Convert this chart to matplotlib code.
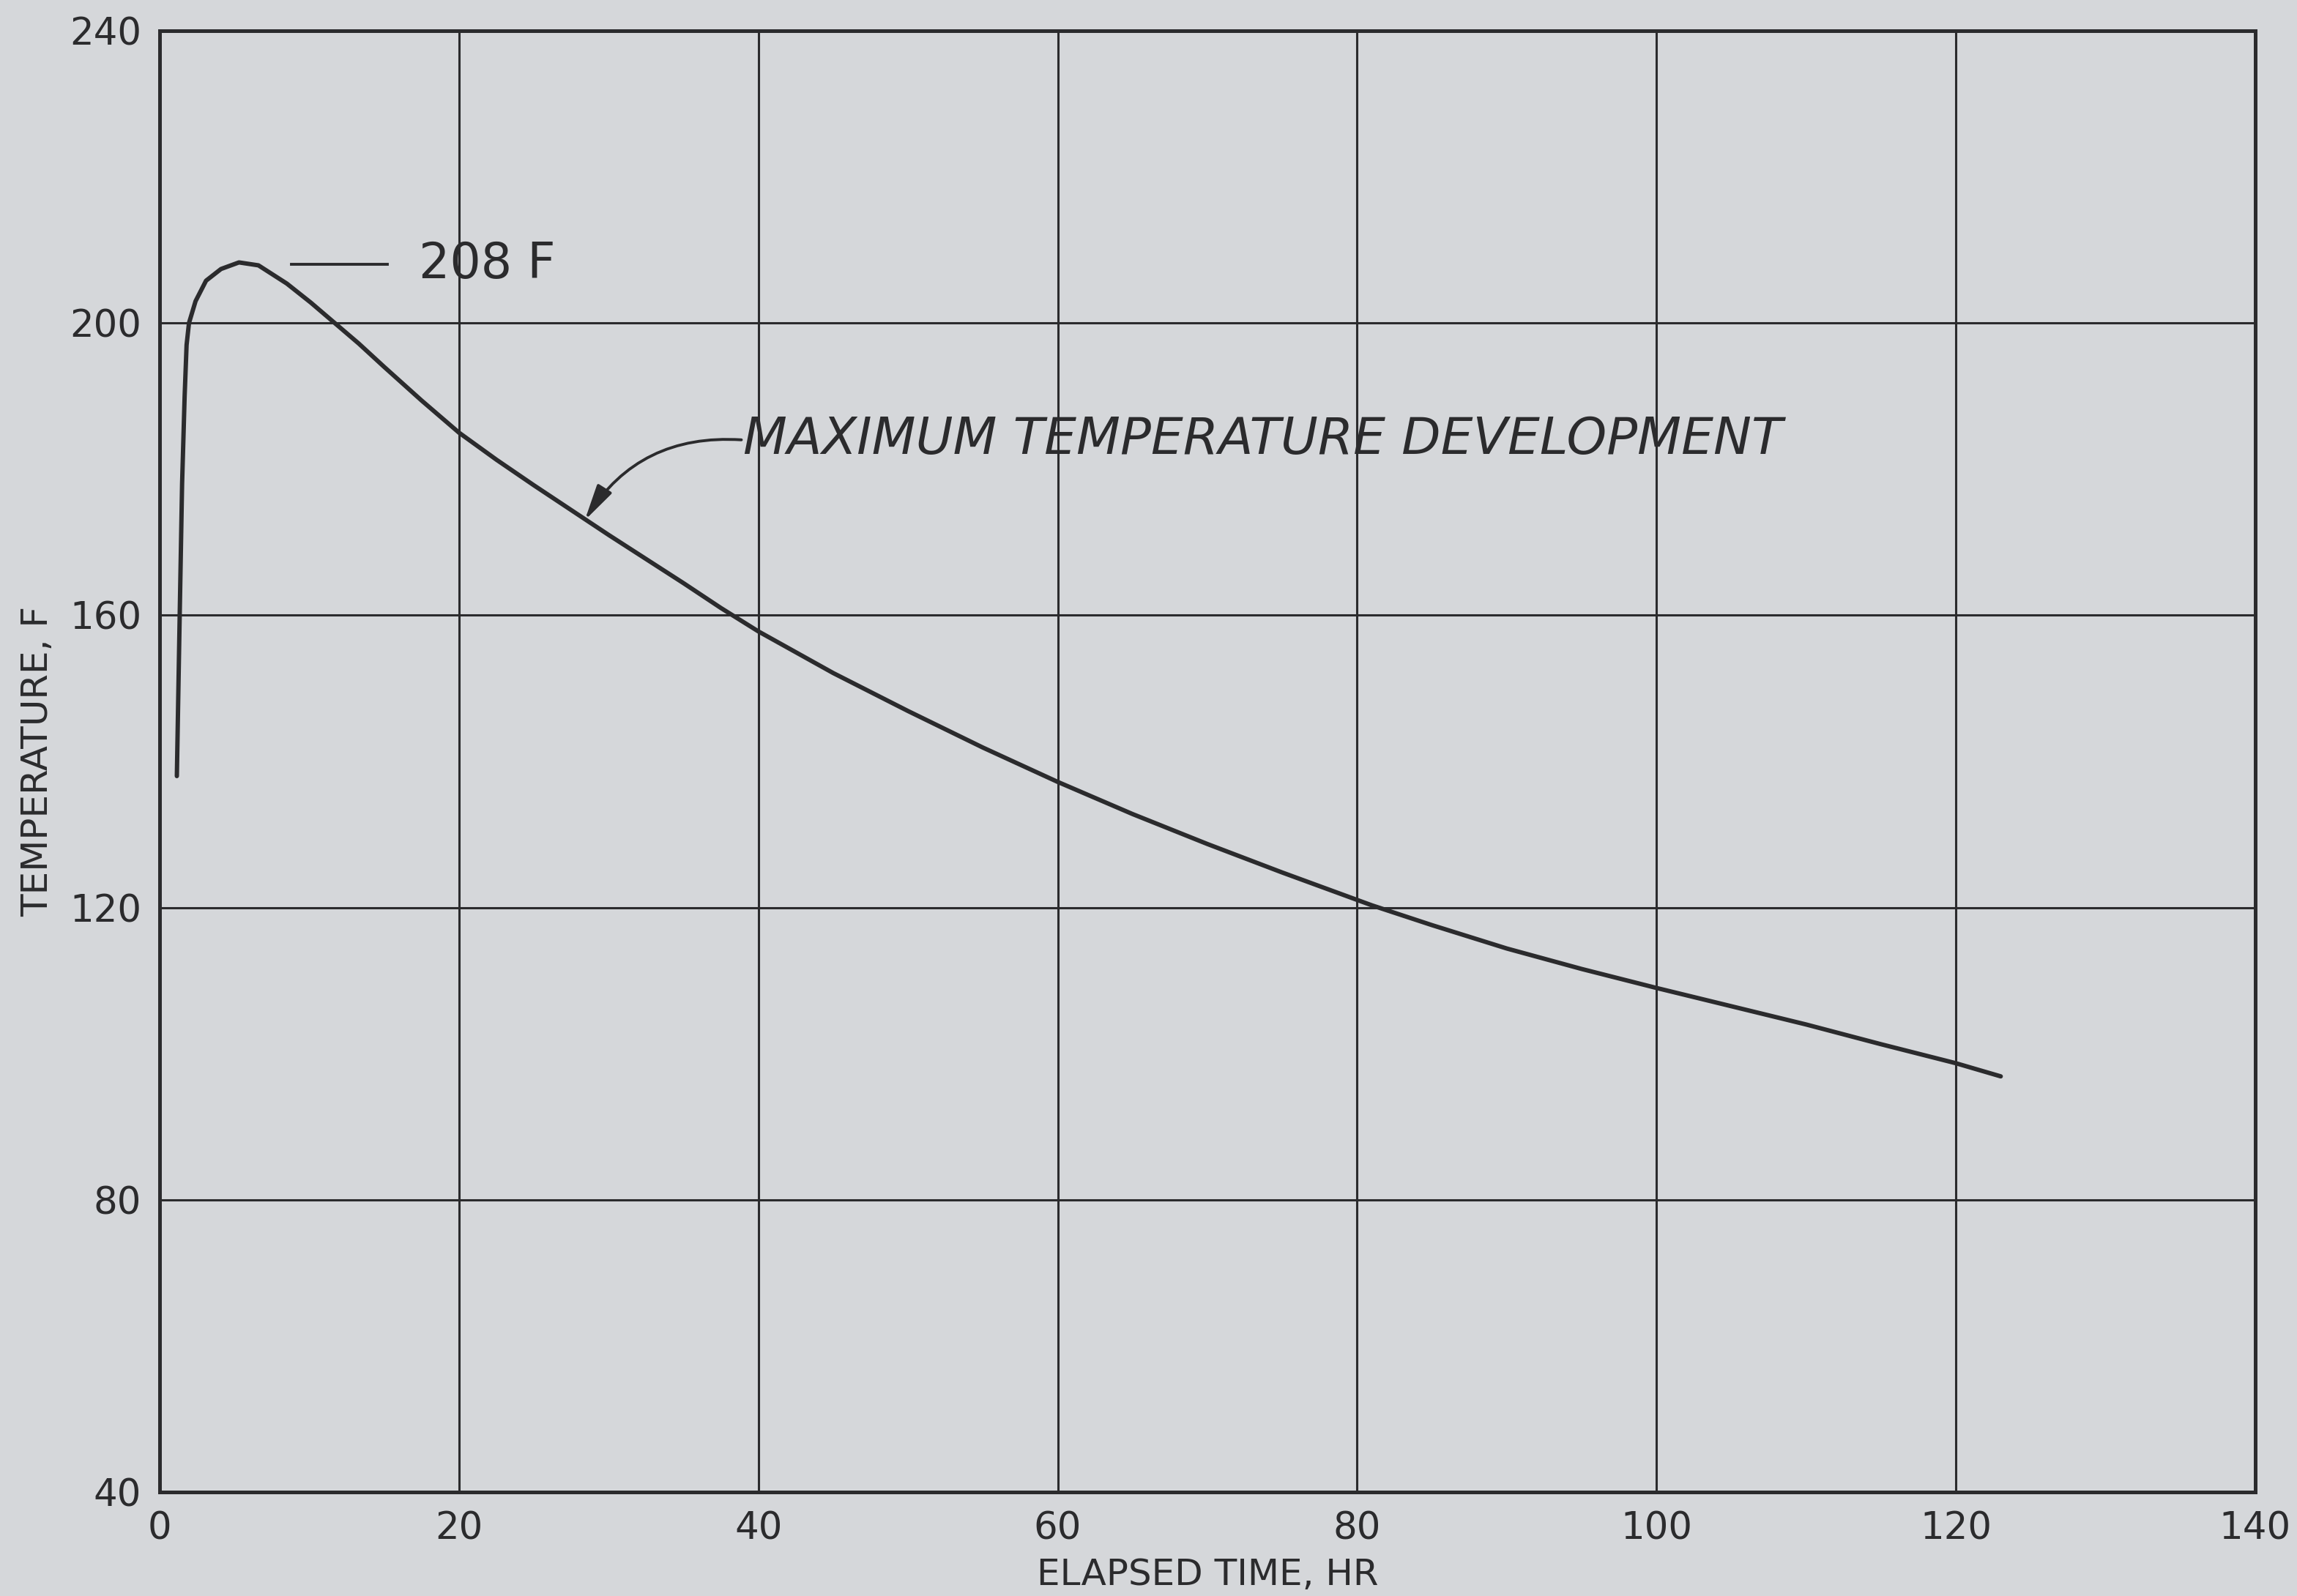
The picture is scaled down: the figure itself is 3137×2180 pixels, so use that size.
# encoding:utf-8
# maximum temperature development vs elapsed time

import matplotlib.pyplot as plt

# curve
elapsed_hr = [1.15, 1.34, 1.5, 1.67, 1.8, 1.96, 2.4, 3.1, 4.1, 5.3, 6.6, 8.5,
              10.1, 11.7, 13.3, 15, 17.5, 20, 22.5, 25, 27.5, 30, 32.5, 35,
              37.5, 40, 45, 50, 55, 60, 65, 70, 75, 81, 85, 90, 95, 100, 105,
              110, 115, 120, 123]
temp_f = [138, 160, 178, 190, 197, 200, 203, 205.8, 207.4, 208.3, 207.9, 205.4,
          202.8, 200, 197.2, 194.0, 189.4, 185, 181.3, 177.8, 174.4, 171, 167.7,
          164.4, 161.0, 157.8, 152.1, 146.9, 141.9, 137.2, 132.8, 128.7, 124.8,
          120.3, 117.6, 114.4, 111.6, 109, 106.5, 104, 101.3, 98.7, 96.9]

x_ticks = [0, 20, 40, 60, 80, 100, 120, 140]
y_ticks = [40, 80, 120, 160, 200, 240]
peak_label = '208 F'
curve_label = 'MAXIMUM TEMPERATURE DEVELOPMENT'

bg = '#d5d7da'
ink = '#2b2b2d'


def plot1():
    fig = plt.figure(figsize=(31.37, 21.8), dpi=100, facecolor=bg)
    ax = fig.add_axes([0.0695, 0.0651, 0.9123, 0.9156], facecolor=bg)

    ax.plot(elapsed_hr, temp_f, color=ink, lw=4.3, solid_capstyle='round',
            solid_joinstyle='round')

    ax.set_xlim(0, 140)
    ax.set_ylim(40, 240)
    ax.set_xticks(x_ticks)
    ax.set_yticks(y_ticks)
    ax.grid(True, color=ink, lw=2.2)
    ax.set_axisbelow(True)
    for s in ax.spines.values():
        s.set_color(ink)
        s.set_linewidth(3.6)
    ax.tick_params(length=0, labelsize=37, colors=ink, pad=18)

    ax.set_xlabel('ELAPSED TIME, HR', fontsize=36, color=ink, labelpad=10)
    ax.set_ylabel('TEMPERATURE, F', fontsize=36, color=ink, labelpad=14)

    # peak marker
    ax.plot([8.8, 15.2], [208, 208], color=ink, lw=2.8)
    ax.text(17.3, 208, peak_label, fontsize=48, color=ink, va='center', ha='left')

    # curve label with curved arrow
    ax.annotate(curve_label, xy=(28.4, 173), xytext=(39.0, 184),
                fontsize=50, fontstyle='italic', color=ink,
                va='center', ha='left',
                arrowprops=dict(arrowstyle='-|>,head_length=1.5,head_width=0.35',
                                mutation_scale=20,
                                connectionstyle='arc3,rad=0.3',
                                relpos=(0, 0.5),
                                color=ink, lw=2.8, shrinkA=0, shrinkB=0))

    fig.savefig('out.png', dpi=100, facecolor=bg)


if __name__ == '__main__':
    plot1()
